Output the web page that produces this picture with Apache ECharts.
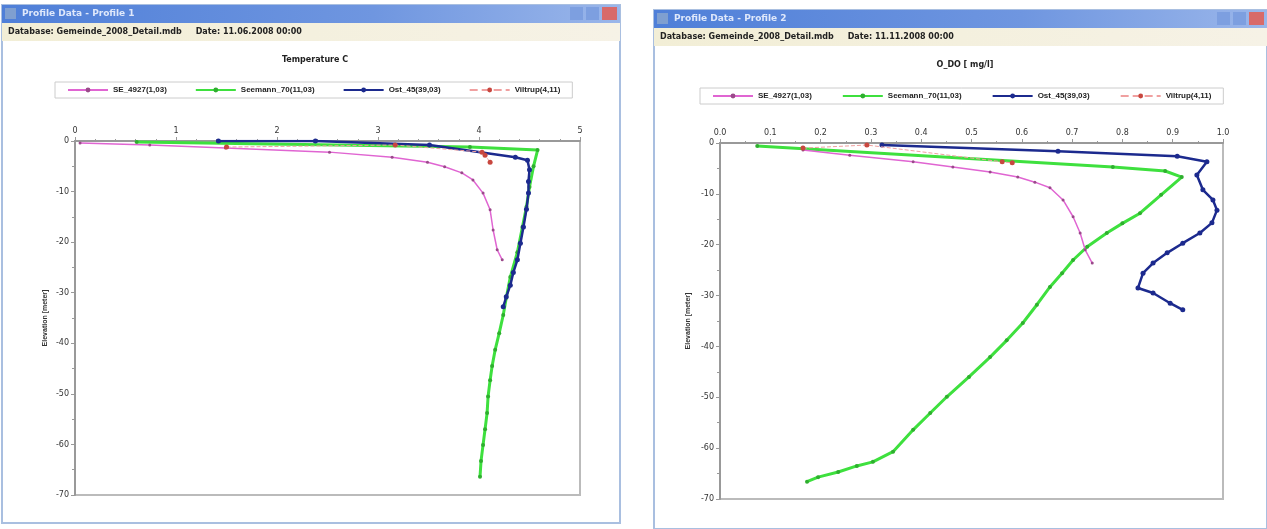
<!DOCTYPE html>
<html><head><meta charset="utf-8">
<script src="https://cdn.jsdelivr.net/npm/echarts@6/dist/echarts.min.js"></script>
<style>html,body{margin:0;padding:0;background:#fff}#c{width:1267px;height:529px}</style>
</head><body><div id="c"></div>
<script>
// ---- data (depth in metres, negative downwards) ----
const seriesNames = ["SE_4927(1,03)", "Seemann_70(11,03)", "Ost_45(39,03)", "Viltrup(4,11)"];
const leftTitle = "Temperature C";
const rightTitle = "O_DO [ mg/l]";
const yName = "Elevation [meter]";
const leftWindowTitle = "Profile Data - Profile 1";
const rightWindowTitle = "Profile Data - Profile 2";
const leftInfo = "Database: Gemeinde_2008_Detail.mdb     Date: 11.06.2008 00:00";
const rightInfo = "Database: Gemeinde_2008_Detail.mdb     Date: 11.11.2008 00:00";

// left chart: temperature
const tPink = [[0.05,-0.4],[0.74,-0.8],[1.49,-1.4],[2.52,-2.2],[3.14,-3.2],[3.49,-4.2],[3.66,-5.1],[3.83,-6.3],[3.94,-7.7],[4.04,-10.3],[4.11,-13.6],[4.14,-17.6],[4.18,-21.5],[4.23,-23.5]];
const tGreen = [[0.61,-0.2],[3.91,-1.2],[4.58,-1.8],[4.54,-5.0],[4.50,-9.1],[4.47,-13.0],[4.43,-17.0],[4.38,-22.0],[4.31,-26.9],[4.27,-31.0],[4.24,-34.4],[4.20,-38.0],[4.16,-41.3],[4.13,-44.5],[4.11,-47.3],[4.09,-50.5],[4.08,-53.8],[4.06,-57.0],[4.04,-60.1],[4.02,-63.3],[4.01,-66.4]];
const tNavy = [[1.42,0],[2.38,0],[3.51,-0.8],[4.36,-3.2],[4.48,-3.8],[4.50,-5.7],[4.49,-8.0],[4.49,-10.3],[4.47,-13.5],[4.44,-17.0],[4.41,-20.2],[4.38,-23.5],[4.34,-26.0],[4.31,-28.5],[4.27,-30.8],[4.24,-32.8]];
const tRed = [[1.50,-1.2],[3.17,-0.8],[4.03,-2.2],[4.06,-2.8],[4.11,-4.2]];

// right chart: oxygen
const oPink = [[0.165,-1.4],[0.258,-2.4],[0.384,-3.7],[0.463,-4.7],[0.537,-5.7],[0.592,-6.7],[0.626,-7.7],[0.656,-8.8],[0.682,-11.2],[0.702,-14.5],[0.716,-17.7],[0.726,-21.0],[0.740,-23.6]];
const oGreen = [[0.074,-0.6],[0.781,-4.7],[0.885,-5.5],[0.918,-6.7],[0.877,-10.2],[0.835,-13.8],[0.800,-15.8],[0.769,-17.7],[0.730,-20.4],[0.702,-23.0],[0.680,-25.6],[0.656,-28.3],[0.630,-31.8],[0.602,-35.4],[0.570,-38.8],[0.537,-42.1],[0.495,-46.0],[0.451,-49.9],[0.418,-53.1],[0.384,-56.4],[0.344,-60.7],[0.304,-62.7],[0.272,-63.5],[0.235,-64.7],[0.195,-65.7],[0.173,-66.6]];
const oNavy = [[0.322,-0.4],[0.672,-1.6],[0.909,-2.6],[0.968,-3.7],[0.948,-6.3],[0.960,-9.2],[0.980,-11.2],[0.988,-13.2],[0.978,-15.7],[0.954,-17.7],[0.920,-19.7],[0.889,-21.6],[0.861,-23.6],[0.841,-25.6],[0.831,-28.5],[0.861,-29.5],[0.895,-31.5],[0.920,-32.8]];
const oRed = [[0.165,-1.0],[0.292,-0.4],[0.561,-3.7],[0.581,-3.9]];

const tX = {min:0, max:5, interval:1};
const oX = {min:0, max:1, interval:0.1};
const yAx = {min:-70, max:0, interval:10};

const colors = {pink:'#e065d2', green:'#3ee03e', navy:'#1c2a8e', red:'#c8473f'};

function mkSeries(gi, pink, green, navy, red){
  return [
    {name:seriesNames[0], type:'line', xAxisIndex:gi, yAxisIndex:gi, data:pink, symbol:'circle', symbolSize:3,
     lineStyle:{color:colors.pink, width:1.5}, itemStyle:{color:'#9a4a8a'}, z:3},
    {name:seriesNames[1], type:'line', xAxisIndex:gi, yAxisIndex:gi, data:green, symbol:'circle', symbolSize:4,
     lineStyle:{color:colors.green, width:3}, itemStyle:{color:'#2fae2f'}, z:2},
    {name:seriesNames[2], type:'line', xAxisIndex:gi, yAxisIndex:gi, data:navy, symbol:'circle', symbolSize:5,
     lineStyle:{color:colors.navy, width:2.5}, itemStyle:{color:colors.navy}, z:4},
    {name:seriesNames[3], type:'line', xAxisIndex:gi, yAxisIndex:gi, data:red, symbol:'circle', symbolSize:5,
     lineStyle:{color:'#f0a0a0', width:1, type:'dashed'}, itemStyle:{color:colors.red}, z:5}
  ];
}

function win(x, y, w, h, title, info){
  return [
    {type:'rect', shape:{x:x, y:y, width:w, height:h}, style:{fill:'#fff', stroke:'#a9bfe0', lineWidth:2}, z:-10},
    {type:'rect', shape:{x:x, y:y, width:w, height:18},
     style:{fill:new echarts.graphic.LinearGradient(0,0,1,0,[{offset:0,color:'#4f7fd8'},{offset:0.6,color:'#6f96e0'},{offset:1,color:'#9ab6ea'}])}, z:-9},
    {type:'rect', shape:{x:x+3, y:y+3, width:11, height:11}, style:{fill:'#7f9fd0'}, z:-8},
    {type:'text', x:x+20, y:y+4, style:{text:title, fill:'#dfe8fb', font:'bold 9px "DejaVu Sans"'}, z:-8},
    {type:'rect', shape:{x:x+w-50, y:y+2, width:13, height:13}, style:{fill:'#7d9fe0'}, z:-8},
    {type:'rect', shape:{x:x+w-34, y:y+2, width:13, height:13}, style:{fill:'#7d9fe0'}, z:-8},
    {type:'rect', shape:{x:x+w-18, y:y+2, width:15, height:13}, style:{fill:'#d86a6a'}, z:-8},
    {type:'rect', shape:{x:x, y:y+18, width:w, height:18},
     style:{fill:new echarts.graphic.LinearGradient(0,0,1,0,[{offset:0,color:'#f2eed6'},{offset:1,color:'#f6f2e6'}])}, z:-9},
    {type:'text', x:x+6, y:y+23, style:{text:info, fill:'#222', font:'bold 8px "DejaVu Sans"'}, z:-8}
  ];
}

const axisLbl = {fontSize:8, color:'#333', fontFamily:'DejaVu Sans'};
const chart = echarts.init(document.getElementById('c'));
chart.setOption({
  animation:false,
  backgroundColor:'#fff',
  graphic: [].concat(win(2,5,618,518,leftWindowTitle,leftInfo), win(654,10,613,519,rightWindowTitle,rightInfo)),
  title:[
    {text:leftTitle, left:310, top:51, textAlign:'center', textStyle:{fontSize:8, fontWeight:'bold', color:'#222', fontFamily:'DejaVu Sans'}},
    {text:rightTitle, left:960, top:56, textAlign:'center', textStyle:{fontSize:8, fontWeight:'bold', color:'#222', fontFamily:'DejaVu Sans'}}
  ],
  legend:[
    {data:seriesNames, left:55, top:82, width:510, itemGap:28, itemWidth:40, itemHeight:6,
     borderColor:'#ccc', borderWidth:1, padding:[4,12], textStyle:{fontSize:8, color:'#222', fontWeight:'bold'}},
    {data:seriesNames, left:700, top:88, width:515, itemGap:30, itemWidth:40, itemHeight:6,
     borderColor:'#ccc', borderWidth:1, padding:[4,12], textStyle:{fontSize:8, color:'#222', fontWeight:'bold'}}
  ],
  grid:[
    {left:75, top:141, width:505, height:354, show:true, borderColor:'#bbb', borderWidth:2, backgroundColor:'#fff'},
    {left:720, top:143, width:503, height:356, show:true, borderColor:'#bbb', borderWidth:2, backgroundColor:'#fff'}
  ],
  xAxis:[
    {type:'value', gridIndex:0, position:'top', min:tX.min, max:tX.max, interval:tX.interval,
     axisLine:{show:true, lineStyle:{color:'#999', width:2}}, axisTick:{show:true, inside:false, length:4, lineStyle:{color:'#999'}},
     minorTick:{show:true, splitNumber:5, length:2}, splitLine:{show:false}, axisLabel:Object.assign({margin:6}, axisLbl)},
    {type:'value', gridIndex:1, position:'top', min:oX.min, max:oX.max, interval:oX.interval,
     axisLine:{show:true, lineStyle:{color:'#999', width:2}}, axisTick:{show:true, length:4, lineStyle:{color:'#999'}},
     minorTick:{show:true, splitNumber:2, length:2}, splitLine:{show:false},
     axisLabel:Object.assign({margin:6, formatter:v=>v.toFixed(1)}, axisLbl)}
  ],
  yAxis:[
    {type:'value', gridIndex:0, min:yAx.min, max:yAx.max, interval:yAx.interval, name:yName, nameLocation:'middle', nameGap:26,
     nameTextStyle:{fontSize:7, fontWeight:'bold', color:'#333'},
     axisLine:{show:true, lineStyle:{color:'#999', width:2}}, axisTick:{show:true, length:4, lineStyle:{color:'#999'}},
     minorTick:{show:true, splitNumber:2, length:3}, splitLine:{show:false}, axisLabel:Object.assign({margin:6}, axisLbl)},
    {type:'value', gridIndex:1, min:yAx.min, max:yAx.max, interval:yAx.interval, name:yName, nameLocation:'middle', nameGap:28,
     nameTextStyle:{fontSize:7, fontWeight:'bold', color:'#333'},
     axisLine:{show:true, lineStyle:{color:'#999', width:2}}, axisTick:{show:true, length:4, lineStyle:{color:'#999'}},
     minorTick:{show:true, splitNumber:2, length:3}, splitLine:{show:false}, axisLabel:Object.assign({margin:6}, axisLbl)}
  ],
  series: [].concat(mkSeries(0,tPink,tGreen,tNavy,tRed), mkSeries(1,oPink,oGreen,oNavy,oRed))
});
</script></body></html>
